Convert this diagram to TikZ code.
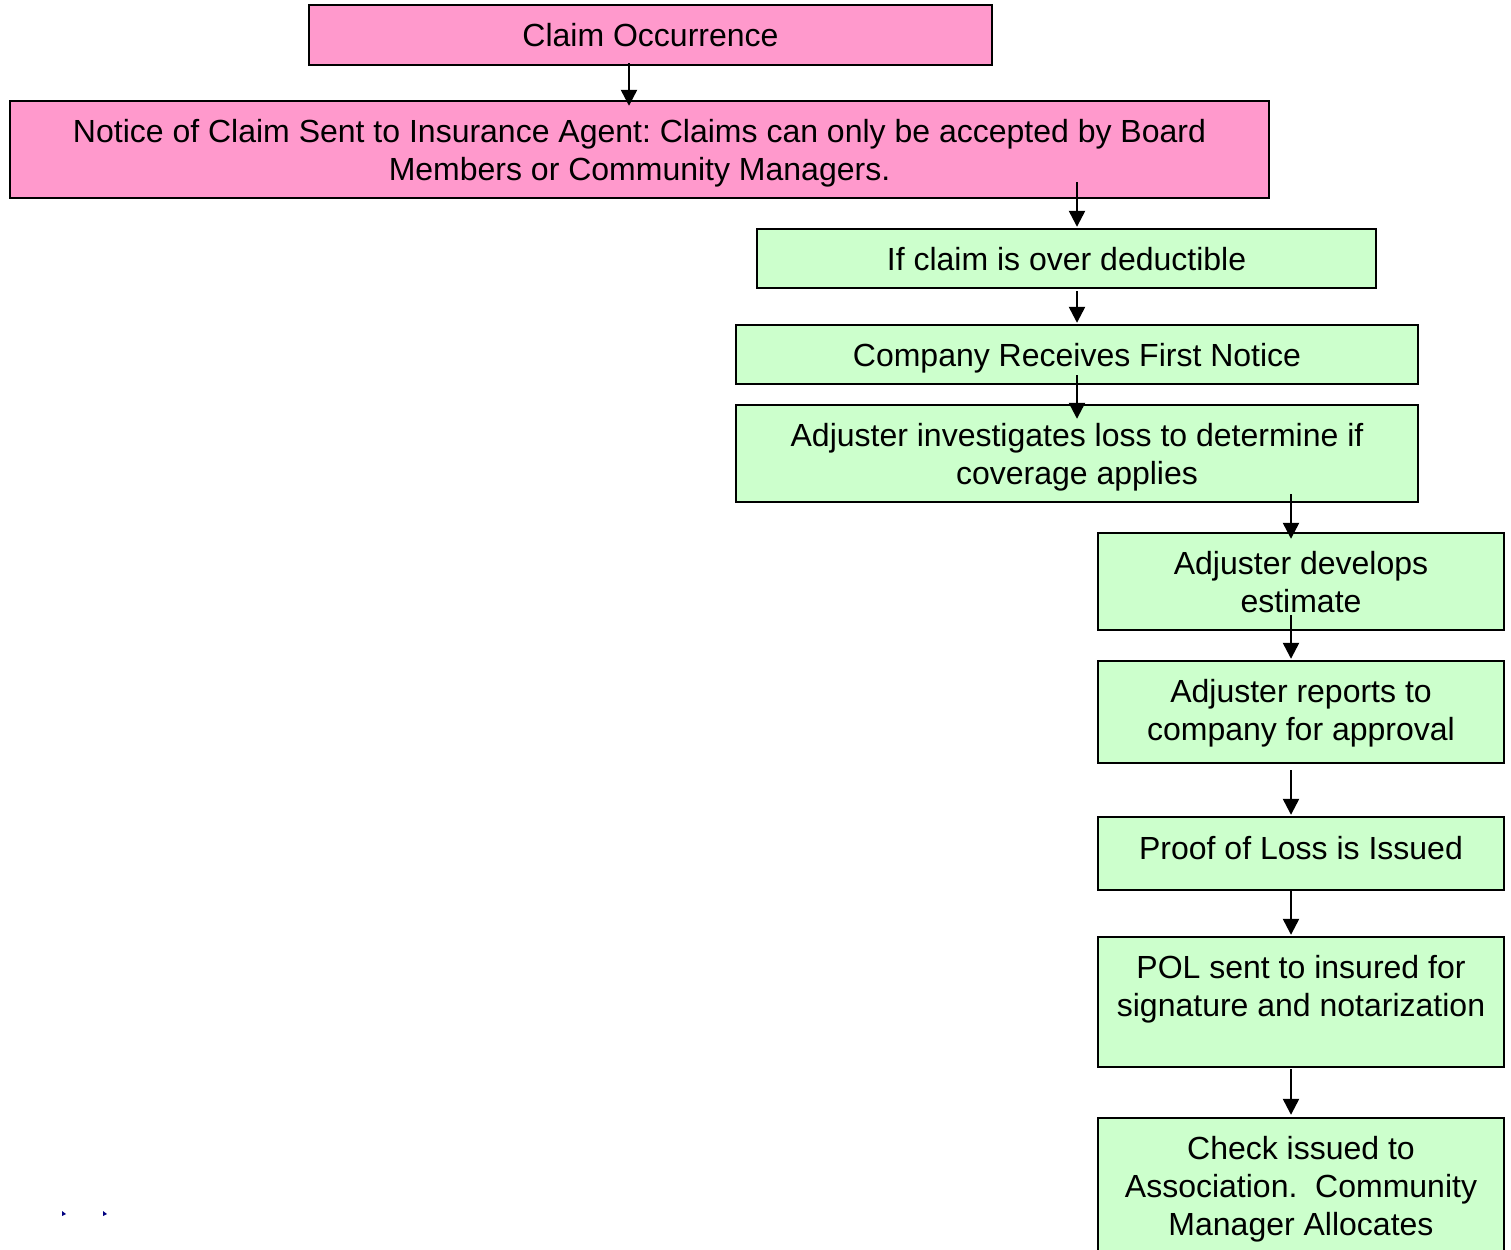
\documentclass[tikz,border=0pt]{standalone}
\usepackage{fontspec}
\setmainfont{Liberation Sans}
\usetikzlibrary{arrows.meta}
\frenchspacing
\definecolor{pinkbox}{HTML}{FF99CC}
\definecolor{greenbox}{HTML}{CCFFCC}
\definecolor{marknavy}{HTML}{000080}
\tikzset{
  box/.style={draw=black, line width=1.2pt, rectangle, inner sep=0pt},
  pinkstep/.style={box, fill=pinkbox},
  greenstep/.style={box, fill=greenbox},
  txt/.style={inner sep=0pt, align=center, font=\fontsize{16pt}{19pt}\selectfont},
  flow/.style={line width=1.2pt, -{Triangle[width=8pt,length=8pt]}},
}
\begin{document}
\begin{tikzpicture}[x=0.5pt, y=-0.5pt]
\useasboundingbox (0,0) rectangle (1511,1249);

% process boxes (sizes in px of the sheet)
\node[pinkstep, minimum width=341.5pt, minimum height=30pt] (b1) at (650.5,35) {};
\node[pinkstep, minimum width=629.5pt, minimum height=48.5pt] (b2) at (639.5,149.5) {};
\node[greenstep, minimum width=309.5pt, minimum height=29.5pt] (b3) at (1066.5,258.5) {};
\node[greenstep, minimum width=341pt, minimum height=29.5pt] (b4) at (1077,354.5) {};
\node[greenstep, minimum width=341pt, minimum height=48.5pt] (b5) at (1077,453.5) {};
\node[greenstep, minimum width=203pt, minimum height=48.5pt] (b6) at (1301,581.5) {};
\node[greenstep, minimum width=203pt, minimum height=51pt] (b7) at (1301,712) {};
\node[greenstep, minimum width=203pt, minimum height=36.5pt] (b8) at (1301,853.5) {};
\node[greenstep, minimum width=203pt, minimum height=65pt] (b9) at (1301,1002) {};
\node[greenstep, minimum width=203pt, minimum height=69pt] (b10) at (1301,1187) {};

% box texts
\node[txt] (b1t) at (650.5,35) {Claim Occurrence};
\node[txt] (b2t) at (639.5,153) {Notice of Claim Sent to Insurance Agent: Claims can only be accepted by Board\\Members or Community Managers.};
\node[txt] (b3t) at (1066.5,259.5) {If claim is over deductible};
\node[txt] (b4t) at (1077,358) {Company Receives First Notice};
\node[txt] (b5t) at (1077,457) {Adjuster investigates loss to determine if\\coverage applies};
\node[txt] (b6t) at (1301,582.5) {Adjuster develops\\estimate};
\node[txt] (b7t) at (1301,713) {Adjuster reports to\\company for approval};
\node[txt] (b8t) at (1301,848.5) {Proof of Loss is Issued};
\node[txt] (b9t) at (1301,989) {POL sent to insured for\\signature and notarization};
\node[txt] (b10t) at (1301,1189) {Check issued to\\Association.\ \ Community\\Manager Allocates};

% column guides for the connectors
\coordinate (c1) at (629,0);
\coordinate (c2) at (1077,0);
\coordinate (c3) at (1291,0);

% connectors
\draw[flow, shorten <=-1.5pt, shorten >=-3pt] (b1.south -| c1) -- (b2.north -| c1);
\draw[flow, shorten <=-8.5pt, shorten >=0.5pt] (b2.south -| c2) -- (b3.north -| c2);
\draw[flow, shorten <=1pt, shorten >=0.5pt] (b3.south -| c2) -- (b4.north -| c2);
\draw[flow, shorten <=-5pt, shorten >=-7.5pt] (b4.south -| c2) -- (b5.north -| c2);
\draw[flow, shorten <=-4.5pt, shorten >=-3.5pt] (b5.south -| c3) -- (b6.north -| c3);
\draw[flow, shorten <=-8pt, shorten >=0.5pt] (b6.south -| c3) -- (b7.north -| c3);
\draw[flow, shorten <=3pt, shorten >=0.5pt] (b7.south -| c3) -- (b8.north -| c3);
\draw[flow, shorten >=0.5pt] (b8.south -| c3) -- (b9.north -| c3);
\draw[flow, shorten <=0.5pt, shorten >=1pt] (b9.south -| c3) -- (b10.north -| c3);

% two small marks near the lower left corner
\fill[marknavy] (62,1211) -- (66,1214) -- (62,1216) -- cycle;
\fill[marknavy] (103,1211) -- (107,1214) -- (103,1216) -- cycle;
\end{tikzpicture}
\end{document}
